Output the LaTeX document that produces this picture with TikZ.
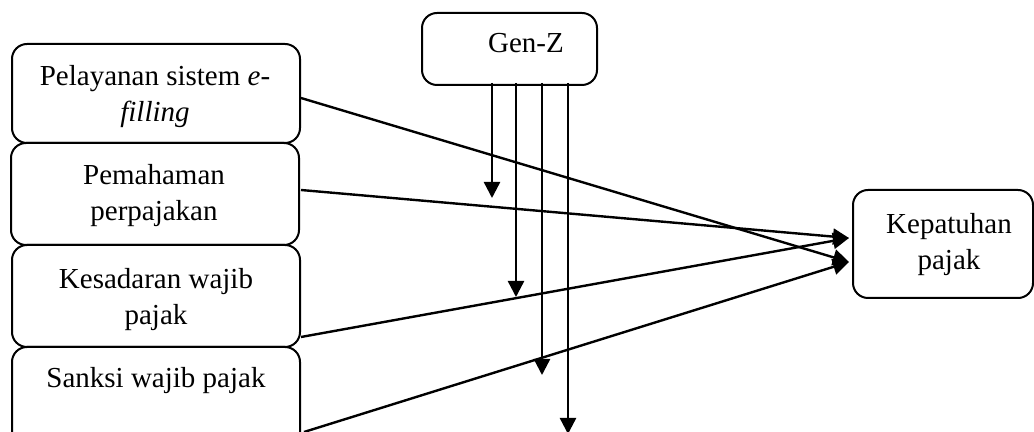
\documentclass[tikz,border=0pt]{standalone}
\usepackage{fontspec}
\setmainfont{Liberation Serif}
\usetikzlibrary{arrows.meta,calc}
\begin{document}
\begin{tikzpicture}[x=0.5pt,y=-0.5pt,
  box/.style={draw,line width=1pt,rounded corners=7.5pt,inner sep=0pt},
  lbl/.style={inner sep=0pt,anchor=north,align=center,font=\fontsize{14.5pt}{18pt}\selectfont},
  arr/.style={line width=1.2pt,-{Triangle[length=8pt,width=8pt]}}]
\clip (0,0) rectangle (1034,432);
% boxes
\node[box,minimum width=144pt,minimum height=49.5pt] (b1) at (156,93.5) {};
\node[box,minimum width=144pt,minimum height=51pt] (b2) at (155,194) {};
\node[box,minimum width=144pt,minimum height=51pt] (b3) at (156,296) {};
\node[box,minimum width=144pt,minimum height=50pt] (b4) at (156,397) {};
\node[box,minimum width=87.5pt,minimum height=36pt] (genz) at (509.5,49) {};
\node[box,minimum width=90pt,minimum height=54pt] (kep) at (943,244) {};
% labels
\node[lbl] (t1) at (155,65) {Pelayanan sistem \textit{e-}\\\textit{filling}};
\node[lbl] (t2) at (154,164) {Pemahaman\\perpajakan};
\node[lbl] (t3) at (156,268) {Kesadaran wajib\\pajak};
\node[lbl] (t4) at (156,367) {Sanksi wajib pajak};
\node[lbl] (tg) at (526,33) {Gen-Z};
\node[lbl] (tk) at (949,213) {Kepatuhan\\pajak};
% end points
\coordinate (k1) at (849,238);
\coordinate (k2) at (849,262);
\coordinate (g1) at (492,198);
\coordinate (g2) at (516,297);
\coordinate (g3) at (542,375);
\coordinate (g4) at (568,434);
% connectors
\draw[arr] ($(b1.east)+(0,4.5)$) -- (k2);
\draw[arr] ($(b2.east)+(1,-4)$) -- (k1);
\draw[arr] ($(b3.east)+(0,41)$) -- (k1);
\draw[arr] ($(b4.east)+(3,35)$) -- (k2);
\draw[arr] (genz.south -| g1) ++(0,-3) -- (g1);
\draw[arr] (genz.south -| g2) ++(0,-3) -- (g2);
\draw[arr] (genz.south -| g3) ++(0,-3) -- (g3);
\draw[arr] (genz.south -| g4) ++(0,-3) -- (g4);
\end{tikzpicture}
\end{document}
